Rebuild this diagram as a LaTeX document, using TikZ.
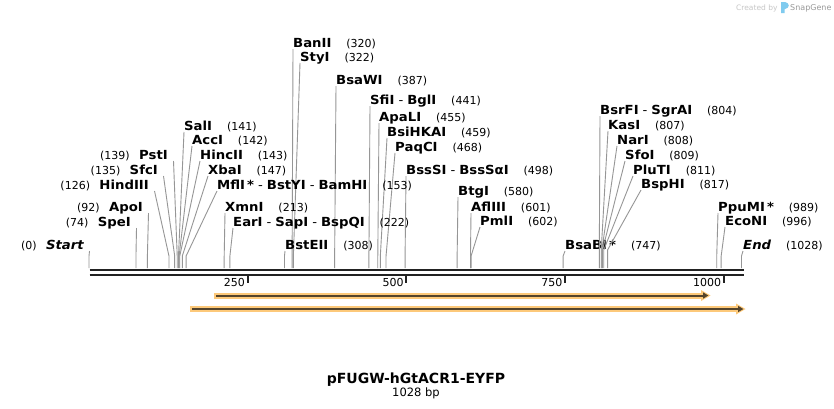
\documentclass[tikz,border=0pt]{standalone}
\usepackage{fontspec}
\setmainfont{DejaVu Sans}
\newfontfamily\lblfont[FakeStretch=1.06]{DejaVu Sans}
\usetikzlibrary{calc}
\definecolor{lgray}{RGB}{150,150,150}
\definecolor{bbcol}{RGB}{34,34,34}
\definecolor{forange}{RGB}{253,201,122}
\definecolor{fdark}{RGB}{84,68,44}
\definecolor{sgblue}{RGB}{96,190,235}
\newcommand\nmfont{\lblfont\fontsize{12.5}{14}\selectfont\bfseries}
\newcommand\numfont{\fontsize{11}{13}\selectfont}
\newcommand\dsh{\hspace{4pt}{\mdseries -}\hspace{4pt}}
% right-hand label: id, x, yc, name, number, pos, bend-y
\newcommand\rlab[7]{%
  \coordinate (p#1) at ({89+0.6347*#6},268);
  \node[nm,anchor=base west] (n#1) at (#2,#3+4.5) {#4};
  \node[num,anchor=base west] (u#1) at ($(n#1.base east)+(14.5,0)$) {(#5)};
  \draw[cline] ($(n#1.base west)+(0,1.5)$) -- ($(p#1)+(0,#7-268)$) -- (p#1);
}
% left-hand label: id, xend, yc, name, number, pos, bend-y
\newcommand\llab[7]{%
  \coordinate (p#1) at ({89+0.6347*#6},268);
  \node[nm,anchor=base east] (n#1) at (#2,#3+4.5) {#4};
  \node[num,anchor=base east] (u#1) at ($(n#1.base west)+(-9,0)$) {(#5)};
  \draw[cline] ($(n#1.base east)+(5.5,1.5)$) -- ($(p#1)+(0,#7-268)$) -- (p#1);
}
\begin{document}
\begin{tikzpicture}[x=1pt,y=-1pt,
  nm/.style={inner sep=0pt,font=\nmfont},
  num/.style={inner sep=0pt,font=\numfont},
  cline/.style={draw=lgray,line width=0.9pt},
  bbline/.style={draw=bbcol,line width=2pt},
  tickst/.style={draw=bbcol,line width=2pt}]
\path[use as bounding box] (0,0) rectangle (834,408);
\fill[white] (0,0) rectangle (834,408);

% labels
\rlab{banii}{293}{43}{BanII}{320}{320}{256}
\rlab{styi}{300}{57}{StyI}{322}{322}{256}
\rlab{bsawi}{336}{80}{BsaWI}{387}{387}{256}
\rlab{sfii}{370}{100}{SfiI\dsh BglI}{441}{441}{256}
\rlab{apali}{379}{117}{ApaLI}{455}{455}{256}
\rlab{bsihkai}{387}{132}{BsiHKAI}{459}{459}{256}
\rlab{paqci}{395}{147}{PaqCI}{468}{468}{256}
\rlab{bsssi}{406}{170}{BssSI\dsh BssSαI}{498}{498}{256}
\rlab{sali}{184}{126}{SalI}{141}{141}{256}
\rlab{acci}{192}{140}{AccI}{142}{142}{256}
\rlab{hincii}{200}{155}{HincII}{143}{143}{256}
\rlab{xbai}{208}{170}{XbaI}{147}{147}{256}
\rlab{mfli}{217}{185}{MflI\,*\dsh BstYI\dsh BamHI}{153}{153}{256}
\rlab{xmni}{225}{207}{XmnI}{213}{213}{256}
\rlab{eari}{233}{222}{EarI\dsh SapI\dsh BspQI}{222}{222}{256}
\rlab{bsteii}{285}{245}{BstEII}{308}{308}{256}
\rlab{btgi}{458}{191}{BtgI}{580}{580}{256}
\rlab{afliii}{471}{207}{AflIII}{601}{601}{256}
\rlab{pmli}{480}{221}{PmlI}{602}{602}{256}
\rlab{bsabi}{565}{245}{BsaBI\,*}{747}{747}{256}
\rlab{bsrfi}{600}{110}{BsrFI\dsh SgrAI}{804}{804}{250}
\rlab{kasi}{608}{125}{KasI}{807}{807}{250}
\rlab{nari}{617}{140}{NarI}{808}{808}{250}
\rlab{sfoi}{625}{155}{SfoI}{809}{809}{250}
\rlab{pluti}{633}{170}{PluTI}{811}{811}{250}
\rlab{bsphi}{641}{184}{BspHI}{817}{817}{250}
\rlab{ppumi}{718}{207}{PpuMI\,*}{989}{989}{256}
\rlab{econi}{725}{221}{EcoNI}{996}{996}{256}
\rlab{end}{743}{245}{\itshape End}{1028}{1028}{256}
\llab{psti}{168}{155}{PstI}{139}{139}{256}
\llab{sfci}{158}{170}{SfcI}{135}{135}{256}
\llab{hindiii}{149}{185}{HindIII}{126}{126}{256}
\llab{apoi}{143}{207}{ApoI}{92}{92}{256}
\llab{spei}{131}{222}{SpeI}{74}{74}{256}
\llab{start}{84}{245}{\itshape Start}{0}{0}{256}

% backbone
\draw[bbline] (89.5,270.3) -- (744,270.3);
\draw[bbline] (89.5,274.7) -- (744,274.7);

% ticks
\foreach \t in {250,500,750,1000}{
  \draw[tickst] ({89+0.6347*\t},275.5) -- ++(0,7);
  \node[num,anchor=base east] (t\t) at ({89+0.6347*\t-2.5},286) {\t};
}

% features
\fill[forange] (214,292.5) rectangle (702,298.5);
\fill[forange] (701,290) -- (710.5,295.5) -- (701,301) -- cycle;
\draw[fdark,line width=2pt] (216,295.5) -- (704,295.5);
\fill[fdark] (703,292.3) -- (708.3,295.5) -- (703,298.7) -- cycle;

\fill[forange] (190,306) rectangle (737,312);
\fill[forange] (736,303.5) -- (745.5,309) -- (736,314.5) -- cycle;
\draw[fdark,line width=2pt] (192,309) -- (739,309);
\fill[fdark] (738,305.8) -- (743.3,309) -- (738,312.2) -- cycle;

% title
\node[inner sep=0pt,anchor=base,font=\fontsize{14}{16}\selectfont\bfseries] (title) at (416,383) {pFUGW-hGtACR1-EYFP};
\node[inner sep=0pt,anchor=base,font=\fontsize{11.5}{13}\selectfont] (bp) at (416,396) {1028 bp};

% branding
\node[inner sep=0pt,anchor=base west,text=black!22,font=\fontsize{7.5}{9}\selectfont] (cb) at (736,10) {Created by};
\fill[sgblue!80] (781,2) -- (785,2) .. controls (790,3) and (790,8) .. (785,9) -- (784.5,9) -- (784.5,13) -- (781,13) -- cycle;
\node[inner sep=0pt,anchor=base west,text=black!40,font=\fontsize{8}{9}\selectfont] (sg) at (790,10.5) {SnapGene};
\end{tikzpicture}
\end{document}
